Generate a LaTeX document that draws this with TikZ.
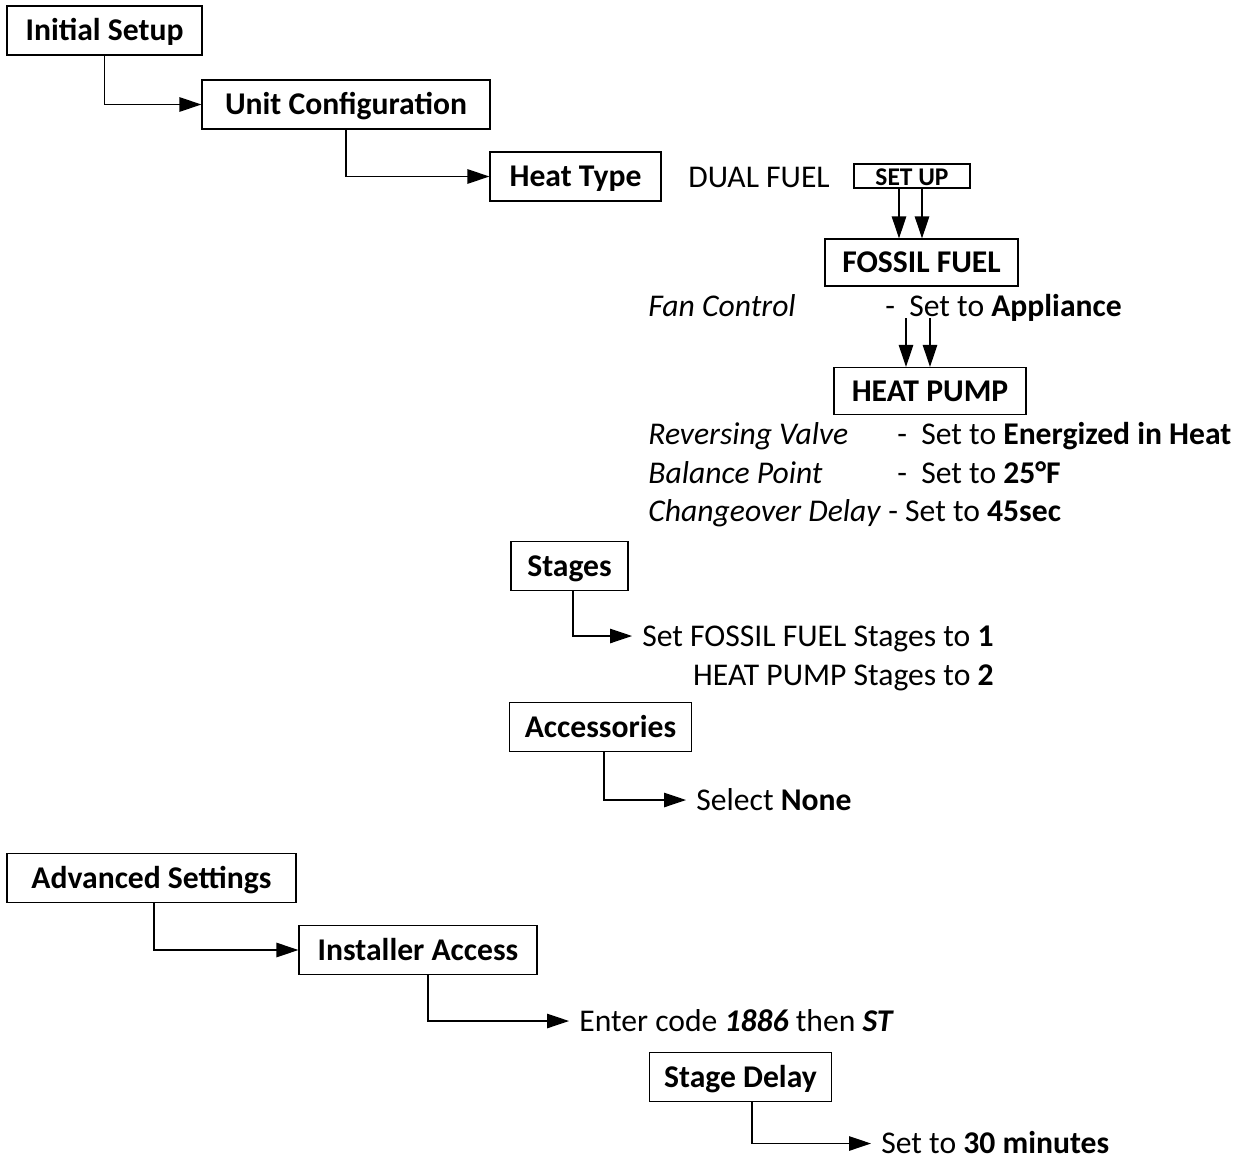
\documentclass[tikz,border=0pt]{standalone}
\usepackage{fontspec}
\setmainfont{Carlito}
\usepackage{tikz}
\usetikzlibrary{arrows.meta,positioning,calc}

\tikzset{
  box/.style={draw,rectangle,line width=0.7pt,minimum height=0.98cm,inner xsep=0.3cm,font=\fontsize{18}{22}\selectfont\bfseries},
  txt/.style={inner xsep=0.2cm,inner ysep=0pt,anchor=west},
  arr/.style={line width=0.7pt,-{Triangle[length=0.44cm,width=0.29cm]}}
}

\begin{document}
\begin{tikzpicture}[font=\fontsize{18}{22}\selectfont,text height=0.52cm,text depth=0.12cm]
  \useasboundingbox (0,0) rectangle (24.78,-23.24);
  % initial setup branch
  \node[box,minimum width=3.9cm] (init) at (2.09,-0.61) {Initial Setup};
  \node[box,minimum width=5.76cm] (unit) at (6.92,-2.09) {Unit Configuration};
  \node[box,minimum width=3.42cm] (heat) at (11.51,-3.53) {Heat Type};
  \node[txt] (dual) at (13.56,-3.54) {DUAL FUEL};
  \node[box,minimum width=2.32cm,minimum height=0.48cm,inner ysep=0pt,text height=0.42cm,text depth=0.02cm,font=\fontsize{14.5}{16}\selectfont\bfseries] (setup) at (18.24,-3.52) {SET UP};
  \node[box,minimum width=3.86cm,minimum height=0.94cm] (fossil) at (18.43,-5.25) {FOSSIL FUEL};
  \node[txt] (fan) at (12.76,-6.12) {\textit{Fan Control}};
  \node[txt] (fanval) at (17.50,-6.12) {-~~Set to \textbf{Appliance}};
  \coordinate (hpa) at (18.12,-6.36);
  \coordinate (hpb) at (18.60,-6.36);
  \node[box,minimum width=3.84cm,minimum height=0.94cm] (hp) at (18.6,-7.82) {HEAT PUMP};
  \node[txt] (rv) at (12.76,-8.68) {\textit{Reversing Valve}};
  \node[txt] (rvval) at (17.74,-8.68) {-~~Set to \textbf{Energized in Heat}};
  \node[txt] (bp) at (12.76,-9.46) {\textit{Balance Point}};
  \node[txt] (bpval) at (17.74,-9.46) {-~~Set to \textbf{25°F}};
  \node[txt] (cd) at (12.76,-10.22) {\textit{Changeover Delay}};
  \node[txt] (cdval) at (17.56,-10.22) {-~Set to \textbf{45sec}};
  \node[box,minimum width=2.34cm] (stages) at (11.39,-11.32) {Stages};
  \node[txt] (sff) at (12.64,-12.72) {Set FOSSIL FUEL Stages to \textbf{1}};
  \node[txt,anchor=east] (shp) at ([yshift=-0.78cm]sff.east) {HEAT PUMP Stages to \textbf{2}};
  \node[box,minimum width=3.58cm] (acc) at (12.01,-14.54) {Accessories};
  \node[txt] (none) at (13.72,-16.0) {Select \textbf{None}};
  \draw[arr] (init.south) |- (unit.west);
  \draw[arr] (unit.south) |- (heat.west);
  \draw[arr] ([xshift=-0.26cm]setup.south) -- ([xshift=-0.26cm]setup.south |- fossil.north);
  \draw[arr] ([xshift=0.2cm]setup.south) -- ([xshift=0.2cm]setup.south |- fossil.north);
  \draw[arr] (hpa) -- (hpa |- hp.north);
  \draw[arr] (hpb) -- (hpb |- hp.north);
  \draw[arr] ([xshift=0.07cm]stages.south) |- (sff.west);
  \draw[arr] ([xshift=0.07cm]acc.south) |- (none.west);
  % advanced settings branch
  \node[box,minimum width=5.78cm] (adv) at (3.03,-17.56) {Advanced Settings};
  \node[box,minimum width=4.76cm] (inst) at (8.36,-19.0) {Installer Access};
  \node[txt] (code) at (11.38,-20.42) {Enter code \textbf{\textit{1886}} then \textbf{\textit{ST}}};
  \node[box,minimum width=3.54cm] (sdelay) at (14.81,-21.54) {Stage Delay};
  \node[txt,text height=0.45cm,text depth=0.05cm] (thirty) at (17.42,-22.87) {Set to \textbf{30 minutes}};
  \draw[arr] ([xshift=0.05cm]adv.south) |- (inst.west);
  \draw[arr] ([xshift=0.2cm]inst.south) |- (code.west);
  \draw[arr] ([xshift=0.23cm]sdelay.south) |- (thirty.west);
\end{tikzpicture}
\end{document}
